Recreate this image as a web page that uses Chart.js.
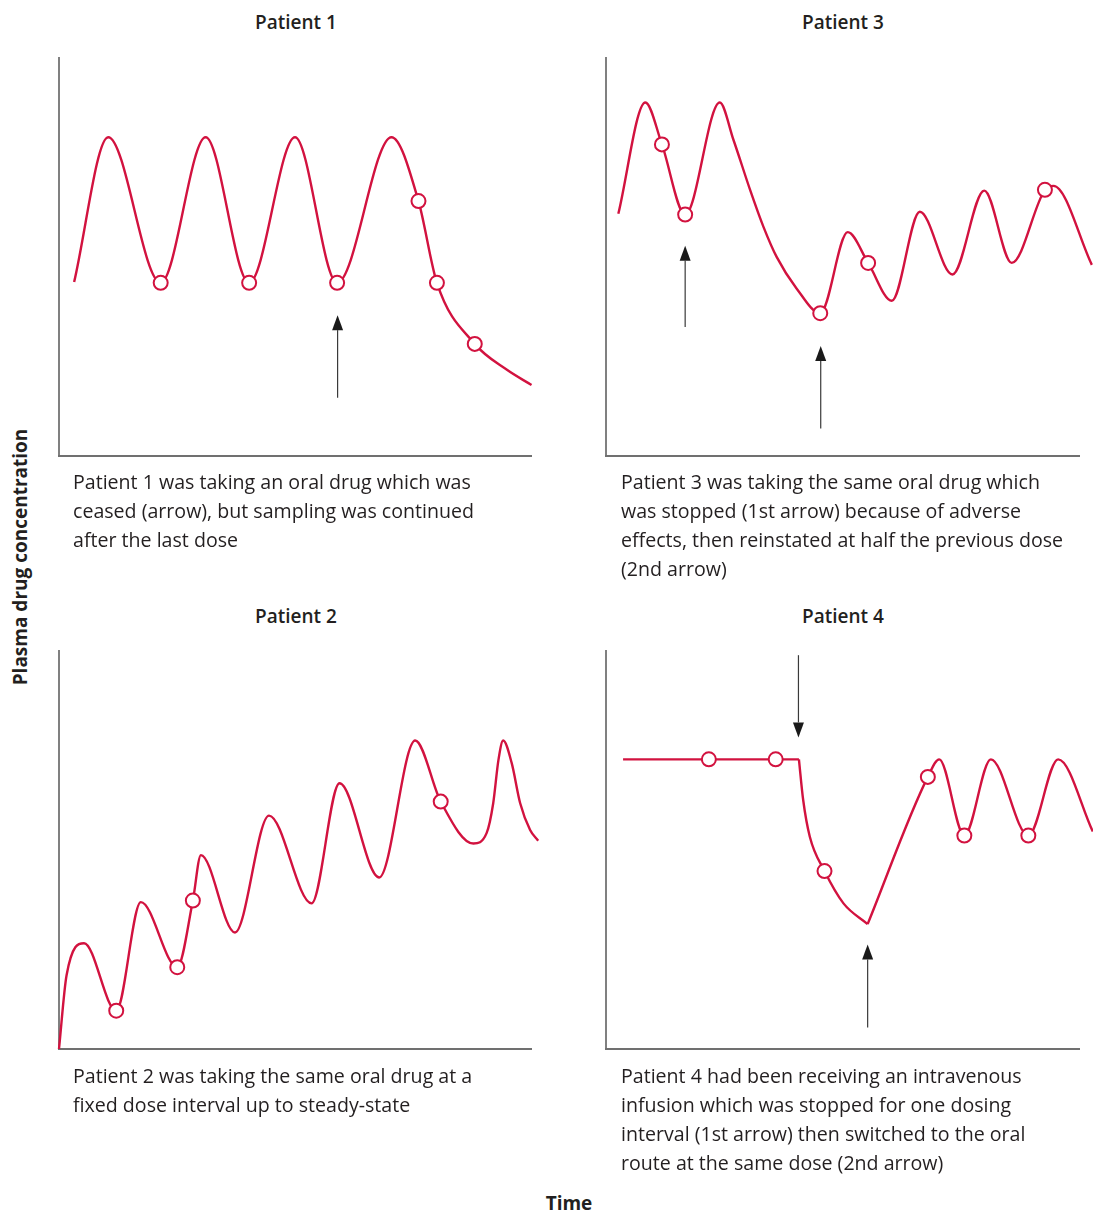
<!DOCTYPE html>
<html>
<head>
<meta charset="utf-8">
<script src="https://cdn.jsdelivr.net/npm/chart.js@4.4.1/dist/chart.umd.min.js"></script>
<style>
body { margin: 0; width: 1093px; height: 1212px; background: #fff; position: relative; overflow: hidden; color: #231f20; font-family: "Open Sans", sans-serif; }
.box { position: absolute; }
.title { position: absolute; width: 300px; text-align: center; font: 600 19px "Open Sans", sans-serif; line-height: 24px; }
.caption { position: absolute; font-size: 19.6px; line-height: 29px; }
.axis-title { position: absolute; font: 700 19px "Open Sans", sans-serif; }
</style>
</head>
<body>
<div class="title" style="left:146px;top:10px">Patient 1</div>
<div class="title" style="left:693px;top:10px">Patient 3</div>
<div class="title" style="left:146px;top:604px">Patient 2</div>
<div class="title" style="left:693px;top:604px">Patient 4</div>

<div class="box" style="left:39px;top:37px"><canvas id="patient1" width="513" height="439"></canvas></div>
<div class="box" style="left:586px;top:37px"><canvas id="patient3" width="514" height="439"></canvas></div>
<div class="box" style="left:39px;top:630px"><canvas id="patient2" width="513" height="439"></canvas></div>
<div class="box" style="left:586px;top:630px"><canvas id="patient4" width="514" height="439"></canvas></div>

<div class="caption" style="left:73px;top:467px">Patient 1 was taking an oral drug which was<br>ceased (arrow), but sampling was continued<br>after the last dose</div>
<div class="caption" style="left:621px;top:467px">Patient 3 was taking the same oral drug which<br>was stopped (1st arrow) because of adverse<br>effects, then reinstated at half the previous dose<br>(2nd arrow)</div>
<div class="caption" style="left:73px;top:1061px">Patient 2 was taking the same oral drug at a<br>fixed dose interval up to steady-state</div>
<div class="caption" style="left:621px;top:1061px">Patient 4 had been receiving an intravenous<br>infusion which was stopped for one dosing<br>interval (1st arrow) then switched to the oral<br>route at the same dose (2nd arrow)</div>

<div class="axis-title" style="left:20px;top:557px;transform:translate(-50%,-50%) rotate(-90deg);white-space:nowrap">Plasma drug concentration</div>
<div class="axis-title" style="left:569px;top:1203px;transform:translate(-50%,-50%)">Time</div>

<script>
// Patient 1: oral dosing, ceased at the arrow
const p1Time = [3.2, 10.4, 21.5, 31.0, 40.2, 49.9, 58.8, 70.3, 76.0, 79.9, 87.9, 94.7, 99.9];
const p1Conc = [43.6, 79.9, 43.4, 79.9, 43.4, 79.9, 43.4, 79.9, 63.9, 43.4, 28.1, 21.6, 17.8];
const p1SampleTime = [21.5, 40.2, 58.8, 76.0, 79.9, 87.9];
const p1SampleConc = [43.4, 43.4, 43.4, 63.9, 43.4, 28.1];
const p1Arrows = [{x: 58.9, from: 14.6, to: 35.3}];

// Patient 3: stopped, then half dose
const p3Time = [2.6, 8.3, 11.8, 16.7, 24.0, 26.9, 30.4, 33.2, 36.0, 40.2, 45.2, 51.0, 55.3, 60.3, 66.2, 73.1, 79.8, 85.6, 92.6, 94.4, 102.5];
const p3Conc = [60.7, 88.6, 78.1, 60.5, 88.6, 79.2, 66.7, 57.5, 49.9, 42.0, 35.8, 56.1, 48.4, 38.9, 61.2, 45.5, 66.5, 48.4, 66.7, 67.7, 47.9];
const p3SampleTime = [11.8, 16.7, 45.2, 55.3, 92.6];
const p3SampleConc = [78.1, 60.5, 35.8, 48.4, 66.7];
const p3Arrows = [{x: 16.7, from: 32.3, to: 52.7}, {x: 45.3, from: 6.9, to: 27.6}];

// Patient 2: building up to steady state
const p2Time = [0, 1.6, 5.3, 12.1, 17.3, 25.0, 28.3, 30.0, 37.2, 44.4, 53.4, 59.3, 67.7, 75.3, 80.7, 87.6, 90.4, 91.8, 92.9, 93.9, 95.7, 97.5, 99.6, 101.3];
const p2Conc = [0, 18.5, 26.5, 9.6, 36.8, 20.5, 37.2, 48.6, 29.2, 58.5, 36.5, 66.6, 43.0, 77.3, 62.0, 51.5, 54.1, 61.6, 72.4, 77.3, 71.7, 61.6, 54.9, 52.2];
const p2SampleTime = [12.1, 25.0, 28.3, 80.7];
const p2SampleConc = [9.6, 20.5, 37.2, 62.0];
const p2Arrows = [];

// Patient 4: infusion, stopped, then oral
const p4InfusionTime = [3.6, 40.7];
const p4InfusionConc = [72.6, 72.6];
const p4StopTime = [40.7, 41.6, 43.0, 46.1, 50.1, 55.2];
const p4StopConc = [72.6, 62.4, 53.2, 44.6, 36.5, 31.3];
const p4OralTime = [55.2, 67.9, 70.3, 75.6, 81.2, 89.1, 95.4, 102.7];
const p4OralConc = [31.3, 68.2, 72.6, 53.5, 72.6, 53.5, 72.6, 54.5];
const p4SampleTime = [21.7, 35.8, 46.1, 67.9, 75.6, 89.1];
const p4SampleConc = [72.6, 72.6, 44.6, 68.2, 53.5, 53.5];
const p4Arrows = [{x: 40.6, from: 98.7, to: 78.1}, {x: 55.2, from: 5.4, to: 26.2}];

const RED = '#d2123f';

function pairs(xs, ys) {
    return xs.map(function(x, i) { return {x: x, y: ys[i]}; });
}

var axesPlugin = {
    id: 'lAxes',
    beforeDatasetsDraw: function(chart) {
        var ctx = chart.ctx, x = chart.scales.x, y = chart.scales.y;
        var x0 = x.getPixelForValue(0), x1 = x.getPixelForValue(100);
        var y0 = y.getPixelForValue(0), y1 = y.getPixelForValue(100);
        ctx.save();
        ctx.strokeStyle = '#3c3c3c';
        ctx.lineWidth = 1.3;
        ctx.beginPath(); ctx.moveTo(x0, y1); ctx.lineTo(x0, y0); ctx.stroke();
        ctx.strokeStyle = '#707070';
        ctx.lineWidth = 2;
        ctx.beginPath(); ctx.moveTo(x0 - 1, y0); ctx.lineTo(x1, y0); ctx.stroke();
        ctx.restore();
    }
};

var arrowPlugin = {
    id: 'arrows',
    afterDatasetsDraw: function(chart, args, opts) {
        var ctx = chart.ctx, x = chart.scales.x, y = chart.scales.y;
        (opts.list || []).forEach(function(a) {
            var px = x.getPixelForValue(a.x);
            var pFrom = y.getPixelForValue(a.from), pTo = y.getPixelForValue(a.to);
            var dir = pTo < pFrom ? -1 : 1;
            var headLen = 15, headHalf = 5.5;
            ctx.save();
            ctx.strokeStyle = '#3a3a3a';
            ctx.lineWidth = 1.2;
            ctx.beginPath();
            ctx.moveTo(px, pFrom);
            ctx.lineTo(px, pTo - dir * headLen);
            ctx.stroke();
            ctx.fillStyle = '#1a1a1a';
            ctx.beginPath();
            ctx.moveTo(px, pTo);
            ctx.lineTo(px - headHalf, pTo - dir * headLen);
            ctx.lineTo(px + headHalf, pTo - dir * headLen);
            ctx.closePath();
            ctx.fill();
            ctx.restore();
        });
    }
};

function curve(xs, ys, tension) {
    return {
        data: pairs(xs, ys),
        showLine: true,
        borderColor: RED,
        borderWidth: 2.4,
        pointRadius: 0,
        cubicInterpolationMode: tension ? 'monotone' : 'default',
        tension: tension ? 0.4 : 0,
        clip: false,
        order: 2
    };
}

function samples(xs, ys) {
    return {
        data: pairs(xs, ys),
        showLine: false,
        pointRadius: 7,
        pointBorderWidth: 2,
        pointBackgroundColor: '#fff',
        pointBorderColor: RED,
        clip: false,
        order: 1
    };
}

function makePanel(id, curves, sampleSet, arrows) {
    var ctx = document.getElementById(id).getContext('2d');
    return new Chart(ctx, {
        type: 'scatter',
        data: { datasets: [sampleSet].concat(curves) },
        options: {
            responsive: false,
            animation: false,
            events: [],
            layout: { padding: 20 },
            plugins: {
                legend: { display: false },
                title: { display: false },
                tooltip: { enabled: false },
                arrows: { list: arrows }
            },
            scales: {
                x: { type: 'linear', min: 0, max: 100, display: false },
                y: { type: 'linear', min: 0, max: 100, display: false }
            }
        },
        plugins: [axesPlugin, arrowPlugin]
    });
}

makePanel('patient1', [curve(p1Time, p1Conc, true)], samples(p1SampleTime, p1SampleConc), p1Arrows);
makePanel('patient3', [curve(p3Time, p3Conc, true)], samples(p3SampleTime, p3SampleConc), p3Arrows);
makePanel('patient2', [curve(p2Time, p2Conc, true)], samples(p2SampleTime, p2SampleConc), p2Arrows);
makePanel('patient4', [
    curve(p4InfusionTime, p4InfusionConc, false),
    curve(p4StopTime, p4StopConc, true),
    curve(p4OralTime, p4OralConc, true)
], samples(p4SampleTime, p4SampleConc), p4Arrows);
</script>
</body>
</html>
